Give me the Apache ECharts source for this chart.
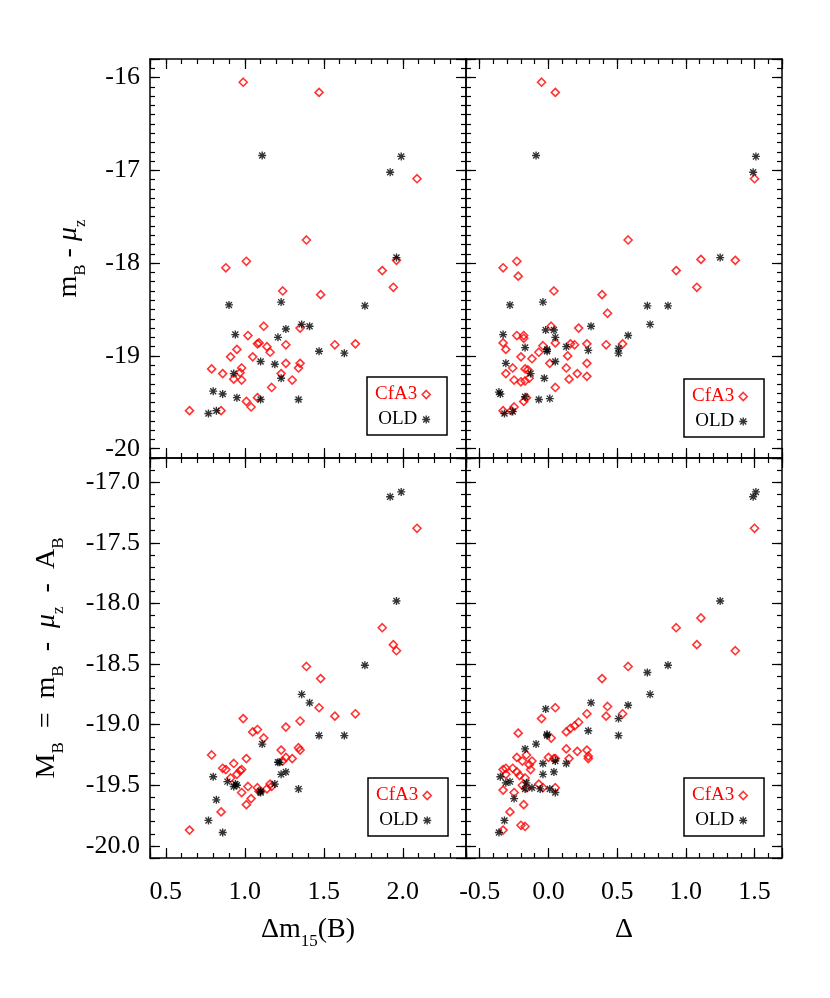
<!DOCTYPE html>
<html>
<head>
<meta charset="utf-8">
<script src="https://cdn.jsdelivr.net/npm/echarts@6/dist/echarts.min.js"></script>
<style>
html, body { margin: 0; padding: 0; background: #fff; }
#main { width: 830px; height: 998px; }
</style>
</head>
<body>
<div id="main"></div>
<script>
// ---- data ----
// left panels: x = dm15(B); right panels: x = Delta (MLCS)
var cfaDm15Mb = [[0.99,-16.05],[1.47,-16.16],[2.09,-17.09],[1.39,-17.75],[0.88,-18.05],[1.01,-17.98],[1.87,-18.08],[1.96,-17.97],[1.94,-18.26],[1.24,-18.30],[1.48,-18.34],[1.12,-18.68],[1.35,-18.70],[1.02,-18.78],[1.08,-18.87],[1.09,-18.86],[1.14,-18.90],[1.16,-18.96],[1.26,-18.88],[1.57,-18.88],[1.70,-18.87],[0.95,-18.93],[0.91,-19.01],[1.05,-19.01],[0.79,-19.14],[0.86,-19.19],[0.98,-19.13],[0.97,-19.18],[0.93,-19.25],[0.98,-19.26],[1.23,-19.19],[1.26,-19.08],[1.35,-19.08],[1.34,-19.13],[1.30,-19.26],[1.17,-19.34],[1.01,-19.49],[1.04,-19.55],[1.08,-19.45],[0.65,-19.59],[0.85,-19.59]];
var oldDm15Mb = [[1.11,-16.84],[1.92,-17.02],[1.99,-16.85],[1.96,-17.94],[0.90,-18.45],[1.23,-18.42],[1.76,-18.46],[0.94,-18.77],[1.26,-18.71],[1.36,-18.66],[1.41,-18.68],[1.21,-18.80],[1.47,-18.95],[1.63,-18.97],[1.10,-19.06],[1.19,-19.09],[0.93,-19.19],[1.23,-19.24],[0.80,-19.38],[0.86,-19.41],[0.95,-19.45],[1.10,-19.47],[1.34,-19.47],[0.77,-19.62],[0.82,-19.59]];
var cfaDeltaMb = [[-0.05,-16.05],[0.05,-16.16],[1.50,-17.09],[0.58,-17.75],[-0.33,-18.05],[-0.23,-17.98],[-0.22,-18.14],[0.93,-18.08],[1.11,-17.96],[1.36,-17.97],[1.08,-18.26],[0.04,-18.30],[0.39,-18.34],[0.43,-18.54],[0.02,-18.68],[0.22,-18.70],[-0.23,-18.78],[-0.18,-18.78],[-0.18,-18.81],[-0.33,-18.86],[-0.31,-18.93],[-0.04,-18.89],[-0.07,-18.96],[0.05,-18.86],[0.16,-18.87],[0.19,-18.88],[0.28,-18.87],[0.42,-18.88],[0.54,-18.87],[-0.20,-19.01],[-0.12,-19.03],[0.14,-19.00],[0.01,-19.08],[0.28,-19.08],[-0.26,-19.13],[-0.17,-19.14],[-0.15,-19.15],[-0.31,-19.19],[0.13,-19.13],[0.21,-19.19],[0.28,-19.22],[-0.25,-19.26],[-0.20,-19.28],[-0.17,-19.27],[-0.14,-19.24],[0.15,-19.25],[0.05,-19.34],[-0.18,-19.49],[-0.16,-19.45],[-0.33,-19.59],[-0.27,-19.59],[-0.25,-19.55]];
var oldDeltaMb = [[-0.09,-16.84],[1.49,-17.02],[1.51,-16.85],[1.25,-17.94],[-0.28,-18.45],[-0.04,-18.42],[0.72,-18.46],[0.87,-18.46],[0.74,-18.66],[0.31,-18.68],[-0.33,-18.77],[-0.02,-18.72],[0.04,-18.72],[0.05,-18.80],[0.58,-18.78],[-0.17,-18.91],[-0.01,-18.93],[-0.01,-18.95],[0.13,-18.90],[0.29,-18.94],[0.51,-18.92],[0.51,-18.97],[-0.31,-19.08],[0.05,-19.06],[-0.13,-19.19],[-0.03,-19.24],[-0.36,-19.39],[-0.35,-19.41],[-0.17,-19.44],[-0.07,-19.47],[0.01,-19.46],[-0.32,-19.62],[-0.26,-19.60]];
var cfaDm15MB = [[2.09,-17.38],[1.87,-18.20],[1.94,-18.34],[1.96,-18.39],[1.39,-18.52],[1.48,-18.62],[1.47,-18.86],[1.57,-18.93],[1.70,-18.91],[1.35,-18.97],[1.26,-19.02],[0.99,-18.95],[1.08,-19.04],[1.05,-19.06],[1.12,-19.11],[0.79,-19.25],[1.01,-19.28],[1.23,-19.21],[1.34,-19.19],[1.35,-19.21],[1.30,-19.28],[1.24,-19.30],[0.93,-19.32],[0.86,-19.36],[0.88,-19.37],[0.97,-19.38],[0.98,-19.37],[0.95,-19.41],[0.91,-19.44],[1.02,-19.51],[1.08,-19.52],[1.14,-19.53],[1.16,-19.49],[1.17,-19.51],[1.09,-19.55],[0.98,-19.56],[1.04,-19.61],[1.01,-19.66],[0.85,-19.72],[0.65,-19.87],[1.26,-19.27]];
var oldDm15MB = [[1.92,-17.12],[1.99,-17.08],[1.96,-17.98],[1.76,-18.51],[1.36,-18.75],[1.41,-18.82],[1.47,-19.09],[1.63,-19.09],[1.11,-19.16],[1.21,-19.31],[1.22,-19.31],[1.23,-19.41],[1.26,-19.39],[0.80,-19.43],[0.89,-19.47],[0.94,-19.49],[0.95,-19.50],[0.93,-19.51],[1.19,-19.49],[1.10,-19.55],[1.10,-19.56],[1.34,-19.53],[0.82,-19.62],[0.77,-19.79],[0.86,-19.89]];
var cfaDeltaMB = [[1.50,-17.38],[0.93,-18.20],[1.11,-18.12],[1.08,-18.34],[1.36,-18.39],[0.58,-18.52],[0.39,-18.62],[0.43,-18.85],[0.42,-18.93],[0.54,-18.91],[0.05,-18.86],[-0.05,-18.95],[0.28,-18.91],[0.22,-18.98],[0.19,-19.01],[0.16,-19.03],[0.13,-19.06],[-0.22,-19.07],[0.02,-19.11],[0.13,-19.20],[0.21,-19.22],[0.28,-19.21],[0.29,-19.26],[0.29,-19.28],[0.15,-19.28],[0.00,-19.27],[0.04,-19.28],[0.05,-19.28],[-0.16,-19.25],[-0.23,-19.27],[-0.19,-19.30],[-0.12,-19.30],[-0.14,-19.33],[-0.13,-19.37],[-0.33,-19.37],[-0.31,-19.36],[-0.26,-19.36],[-0.31,-19.41],[-0.23,-19.39],[-0.21,-19.42],[-0.17,-19.44],[-0.19,-19.50],[-0.16,-19.52],[-0.07,-19.49],[-0.04,-19.52],[0.05,-19.52],[-0.33,-19.54],[-0.25,-19.56],[-0.18,-19.66],[-0.28,-19.72],[-0.20,-19.83],[-0.17,-19.84],[-0.33,-19.87]];
var oldDeltaMB = [[1.49,-17.12],[1.51,-17.08],[1.25,-17.98],[0.87,-18.51],[0.72,-18.57],[0.74,-18.75],[0.31,-18.82],[0.58,-18.84],[-0.02,-18.87],[0.51,-18.95],[0.29,-19.05],[0.51,-19.09],[-0.01,-19.08],[-0.01,-19.09],[-0.09,-19.16],[-0.17,-19.20],[-0.04,-19.32],[0.05,-19.30],[0.13,-19.32],[-0.04,-19.41],[0.04,-19.39],[-0.35,-19.43],[-0.31,-19.48],[-0.28,-19.47],[-0.16,-19.48],[-0.12,-19.52],[-0.06,-19.53],[0.01,-19.53],[0.05,-19.56],[-0.17,-19.53],[-0.25,-19.61],[-0.32,-19.79],[-0.36,-19.89]];

var xRangeDm15 = [0.4, 2.4];
var xRangeDelta = [-0.6, 1.7];
var yRangeTop = [-20.1, -15.8];
var yRangeBottom = [-20.1, -16.8];

// ---- styling ----
var FONT = "'Liberation Serif', 'DejaVu Serif', serif";
var RED = '#ff0000';
// 8-armed asterisk (psym=2 look)
var STAR = 'path://M-0.17,-1L0.17,-1L0.17,1L-0.17,1Z M-1,-0.17L1,-0.17L1,0.17L-1,0.17Z ' +
  'M-0.87,-0.63L-0.63,-0.87L0.87,0.63L0.63,0.87Z M-0.63,0.87L-0.87,0.63L0.63,-0.87L0.87,-0.63Z';

function fmtStep(step, dec) {
  return function (v) {
    var k = v / step;
    if (Math.abs(k - Math.round(k)) > 1e-6) return '';
    return (Math.round(k) * step).toFixed(dec);
  };
}

var rich = {
  n: {fontFamily: FONT, fontSize: 28, color: '#000', lineHeight: 40},
  mu: {fontFamily: FONT, fontSize: 28, fontStyle: 'italic', color: '#000', lineHeight: 40},
  s: {fontFamily: FONT, fontSize: 17, color: '#000', verticalAlign: 'bottom', lineHeight: 17}
};

function axes(dim, grid, range, split, label, name, nameGap) {
  var isX = dim === 'x';
  var p1 = isX ? 'bottom' : 'left', p2 = isX ? 'top' : 'right';
  function major(pos, withLabel) {
    return {
      type: 'value', gridIndex: grid, position: pos, min: range[0], max: range[1], splitNumber: split,
      axisLine: {show: true, onZero: false, lineStyle: {color: '#000', width: 1.5}},
      axisTick: {show: true, inside: true, length: 10, lineStyle: {color: '#000', width: 1.2}},
      splitLine: {show: false},
      axisLabel: withLabel ? {show: true, formatter: label, margin: isX ? 21 : 10, color: '#000', fontFamily: FONT, fontSize: 26} : {show: false},
      name: withLabel && name ? name : '',
      nameLocation: 'middle', nameGap: nameGap, nameRotate: isX ? 0 : 90,
      nameTextStyle: {rich: rich}
    };
  }
  function minor(pos) {
    return {
      type: 'value', gridIndex: grid, position: pos, min: range[0], max: range[1], interval: 0.1,
      axisLine: {show: false, onZero: false},
      axisTick: {show: true, inside: true, length: 5, lineStyle: {color: '#000', width: 1.2}},
      splitLine: {show: false},
      axisLabel: {show: false}
    };
  }
  return [major(p1, !!label), minor(p1), major(p2, false), minor(p2)];
}

var grids = [
  {left: 150, top: 59, width: 316, height: 399},
  {left: 466, top: 59, width: 316, height: 399},
  {left: 150, top: 458, width: 316, height: 400},
  {left: 466, top: 458, width: 316, height: 400}
];

var xAxes = [].concat(
  axes('x', 0, xRangeDm15, 4, null),
  axes('x', 1, xRangeDelta, 4, null),
  axes('x', 2, xRangeDm15, 4, fmtStep(0.5, 1), '{n|Δm}{s|15}{n|(B)}', 52),
  axes('x', 3, xRangeDelta, 4, fmtStep(0.5, 1), '{n|Δ}', 52)
);
var yAxes = [].concat(
  axes('y', 0, yRangeTop, 4, fmtStep(1, 0), '{n|m}{s|B}{n| - }{mu|μ}{s|z}', 61),
  axes('y', 1, yRangeTop, 4, null),
  axes('y', 2, yRangeBottom, 7, fmtStep(0.5, 1), '{n|M}{s|B}{n|  =  m}{s|B}{n|  -  }{mu|μ}{s|z}{n|  -  A}{s|B}', 83),
  axes('y', 3, yRangeBottom, 7, null)
);

var diamondStyle = {color: 'rgba(255,255,255,0)', borderColor: RED, borderWidth: 1.6};

function cfa(grid, data) {
  return {
    name: 'CfA3', type: 'scatter', xAxisIndex: grid * 4, yAxisIndex: grid * 4, data: data,
    symbol: 'diamond', symbolSize: 8, itemStyle: diamondStyle
  };
}
function old(grid, data) {
  return {
    name: 'OLD', type: 'scatter', xAxisIndex: grid * 4, yAxisIndex: grid * 4, data: data,
    symbol: STAR, symbolSize: 8, itemStyle: {color: '#000'}
  };
}

function legendAt(left, top) {
  return {
    left: left, top: top, orient: 'vertical', align: 'right', selectedMode: false,
    padding: [8, 16, 6, 8], itemGap: 6, itemWidth: 8, itemHeight: 8,
    borderColor: '#000', borderWidth: 1.5, borderRadius: 0, backgroundColor: '#fff',
    textStyle: {fontFamily: FONT, fontSize: 19, color: '#000'},
    data: [
      {name: 'CfA3', icon: 'diamond', itemStyle: diamondStyle, textStyle: {color: RED}},
      {name: 'OLD', icon: STAR, itemStyle: {color: '#000'}}
    ]
  };
}

var chart = echarts.init(document.getElementById('main'), null, {renderer: 'canvas'});
chart.setOption({
  animation: false,
  backgroundColor: '#fff',
  grid: grids,
  xAxis: xAxes,
  yAxis: yAxes,
  legend: [legendAt(367, 377), legendAt(684, 379), legendAt(368, 778), legendAt(684, 778)],
  series: [
    cfa(0, cfaDm15Mb), old(0, oldDm15Mb),
    cfa(1, cfaDeltaMb), old(1, oldDeltaMb),
    cfa(2, cfaDm15MB), old(2, oldDm15MB),
    cfa(3, cfaDeltaMB), old(3, oldDeltaMB)
  ]
});
</script>
</body>
</html>
